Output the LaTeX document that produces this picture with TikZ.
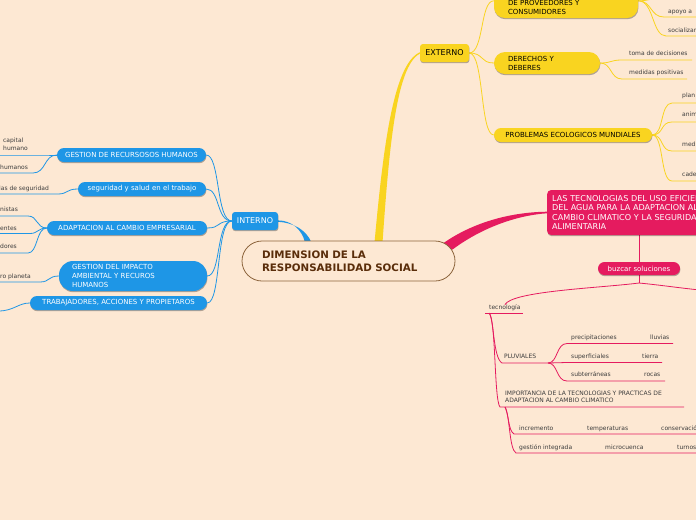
\documentclass[tikz,border=0pt]{standalone}
\usepackage{fontspec}
\setmainfont{DejaVu Sans}
\usetikzlibrary{calc,shadows}
\definecolor{bgc}{RGB}{253,232,211}
\definecolor{cblue}{RGB}{30,150,230}
\definecolor{cyel}{RGB}{249,212,32}
\definecolor{cpink}{RGB}{229,27,95}
\definecolor{cbrown}{RGB}{140,100,60}
\definecolor{ctext}{RGB}{90,45,10}
\definecolor{leaftxt}{RGB}{60,60,60}
\pgfdeclarelayer{bgl}
\pgfdeclarelayer{lnk}
\pgfsetlayers{bgl,lnk,main}
\tikzset{
 shad/.style={drop shadow={shadow xshift=0.4pt,shadow yshift=-1.2pt,opacity=0.3,fill=black}},
 topbox/.style={rounded corners=3pt,inner sep=0pt,font=\fontsize{8}{9}\selectfont,shad},
 pill/.style={rounded corners=7pt,inner sep=0pt,font=\fontsize{7}{9}\selectfont,shad},
 leaf/.style={inner sep=0pt,font=\fontsize{6}{7}\selectfont,text=leaftxt},
 bl/.style={draw=cblue,line width=0.8pt},
 yl/.style={draw=cyel,line width=0.8pt},
 pl/.style={draw=cpink,line width=0.8pt},
 centre/.style={draw=cbrown,line width=0.8pt,fill=bgc,rounded corners=20pt,minimum width=213pt,minimum height=40pt,inner ysep=0pt,inner xsep=20pt,text width=173pt,align=left,text=ctext,font=\bfseries\fontsize{10.3}{13}\selectfont},
}
\begin{document}
\begin{tikzpicture}[x=1pt,y=-1pt]
\begin{pgfonlayer}{bgl}
\fill[bgc] (0,0) rectangle (696,520);
\end{pgfonlayer}
\useasboundingbox (0,0) rectangle (696,520);

% ---------- main nodes
\node[centre] (ctr) at (348.5,261) {DIMENSION DE LA\\RESPONSABILIDAD SOCIAL};
\node[topbox,fill=cblue,text=white,minimum width=46pt,minimum height=18pt] (int) at (255,221) {INTERNO};
\node[topbox,fill=cyel,text=black,minimum width=49pt,minimum height=18pt] (ext) at (444.5,53) {EXTERNO};

% ---------- blue (interno)
\node[pill,fill=cblue,text=white,minimum width=149pt,minimum height=14pt] (g1) at (131.5,155) {GESTION DE RECURSOSOS HUMANOS};
\node[pill,fill=cblue,text=white,minimum width=128pt,minimum height=14pt] (g2) at (142,189) {seguridad y salud en el trabajo};
\node[pill,fill=cblue,text=white,minimum width=160pt,minimum height=14pt] (g3) at (127,228) {ADAPTACION AL CAMBIO EMPRESARIAL};
\node[pill,fill=cblue,text=white,rounded corners=14pt,inner xsep=13pt,text width=122pt,align=left,minimum height=30pt] (g4) at (133,276) {GESTION DEL IMPACTO\\AMBIENTAL Y RECUROS\\HUMANOS};
\node[pill,fill=cblue,text=white,minimum width=177pt,minimum height=14pt] (g5) at (118.5,303) {TRABAJADORES, ACCIONES Y PROPIETAROS};

\node[leaf,align=left,anchor=west,font=\fontsize{6}{8}\selectfont] (l1) at (3,144.4) {capital\\humano};
\node[leaf,anchor=mid west] (l2) at (0,167) {humanos};
\node[leaf,anchor=mid west] (l3) at (-1,188) {las de seguridad};
\node[leaf,anchor=mid west] (l4) at (0,209) {nistas};
\node[leaf,anchor=mid west] (l5) at (0,228) {entes};
\node[leaf,anchor=mid west] (l6) at (0,246) {dores};
\node[leaf,anchor=mid west] (l7) at (0,276) {ro planeta};

% ---------- yellow (externo)
\node[pill,fill=cyel,text=black,rounded corners=11pt,inner xsep=14pt,text width=116pt,align=left,minimum height=34.4pt] (y1) at (566,0.8) {\mbox{}\\\mbox{}\\DE PROVEEDORES Y\\CONSUMIDORES};
\node[pill,fill=cyel,text=black,rounded corners=11pt,inner xsep=14pt,text width=78pt,align=left,minimum height=22pt] (y2) at (547,63) {DERECHOS Y\\DEBERES};
\node[pill,fill=cyel,text=black,minimum width=158pt,minimum height=14pt] (y3) at (573,135) {PROBLEMAS ECOLOGICOS MUNDIALES};

\node[leaf,anchor=mid west] (ap) at (668,11) {apoyo a};
\node[leaf,anchor=mid west] (so) at (668,30) {socializar};
\node[leaf,anchor=mid west] (to) at (629,53) {toma de decisiones};
\node[leaf,anchor=mid west] (me) at (629,72) {medidas positivas};
\node[leaf,anchor=mid west] (pa) at (682,95) {plan};
\node[leaf,anchor=mid west] (an) at (682,114) {anim};
\node[leaf,anchor=mid west] (md) at (682,144) {medi};
\node[leaf,anchor=mid west] (ca) at (682,174) {cade};

% ---------- pink
\node[anchor=west,fill=cpink,text=white,rounded corners=4pt,inner xsep=5pt,inner ysep=0pt,text width=200pt,align=left,minimum height=45pt,font=\fontsize{8.1}{9.3}\selectfont,shad] (tec) at (547,212.5) {LAS TECNOLOGIAS DEL USO EFICIENTE\\DEL AGUA PARA LA ADAPTACION AL\\CAMBIO CLIMATICO Y LA SEGURIDAD\\ALIMENTARIA};
\node[pill,fill=cpink,text=white,rounded corners=6.5pt,minimum width=82pt,minimum height=13pt] (bz) at (639,268.5) {buzcar soluciones};

\node[leaf,anchor=mid west] (tc) at (489,307) {tecnología};
\node[leaf,anchor=mid west] (pv) at (504,356) {PLUVIALES};
\node[leaf,anchor=mid west] (pr) at (571,337) {precipitaciones};
\node[leaf,anchor=mid west] (ll) at (650,337) {lluvias};
\node[leaf,anchor=mid west] (su) at (571,356) {superficiales};
\node[leaf,anchor=mid west] (ti) at (642,356) {tierra};
\node[leaf,anchor=mid west] (sb) at (571,374) {subterráneas};
\node[leaf,anchor=mid west] (ro) at (644,374) {rocas};
\node[leaf,anchor=west,align=left] (im) at (505,397) {IMPORTANCIA DE LA TECNOLOGIAS Y PRACTICAS DE\\ADAPTACION AL CAMBIO CLIMATICO};
\node[leaf,anchor=mid west] (inc) at (519,428) {incremento};
\node[leaf,anchor=mid west] (te) at (587,428) {temperaturas};
\node[leaf,anchor=mid west] (co) at (661,428) {conservación};
\node[leaf,anchor=mid west] (gi) at (519,447) {gestión integrada};
\node[leaf,anchor=mid west] (mc) at (605,447) {microcuenca};
\node[leaf,anchor=mid west] (tu) at (677,447) {turnos};

% ---------- coordinates for underlines / free ends
\coordinate (g5e) at (-2,311);
\coordinate (y1t) at (700,-2);
\coordinate (rt) at (700,290);
\coordinate (jn) at (639,283);

% ---------- connectors
\begin{pgfonlayer}{lnk}
% thick main branches
\fill[cyel] ($(ctr.north)+(26,2)$) .. controls (383,150) and (393,64) .. ($(ext.west)+(0,-0.7)$) -- ($(ext.west)+(0,0.7)$) .. controls (396,66) and (389,150) .. ($(ctr.north)+(34,2)$) -- cycle;
\fill[cblue] ($(int.east)+(0,-0.6)$) .. controls (291,220.5) and (302,229) .. ($(ctr.north)+(-43.5,2)$) -- ($(ctr.north)+(-37,2)$) .. controls (306,229) and (292,222.5) .. ($(int.east)+(0,0.8)$) -- cycle;
\fill[cpink] ($(ctr.north east)+(-12,2.5)$) .. controls (478,219) and (518,212) .. ($(tec.west)+(0,-0.8)$) -- ($(tec.west)+(0,0.8)$) .. controls (520,215) and (484,226) .. ($(ctr.north east)+(-3,9)$) -- cycle;

% blue
\foreach \n in {g1,g2,g3,g4,g5}{
  \draw[bl] (\n.east) .. controls ($(\n.east)+(14,0)$) and (216,221) .. (int.west);
}
\draw[bl] (0,155) -- (42,155) .. controls (50,155) and (50,155) .. (g1.west);
\draw[bl] (0,173) -- (33,173) .. controls (46,173) and (44,155) .. (g1.west);
\draw[bl] (0,194) -- (58,194) .. controls (68,194) and (66,189) .. (g2.west);
\draw[bl] (0,216) -- (28,216) .. controls (38,216) and (36,228) .. (g3.west);
\draw[bl] (0,233.5) -- (30,233.5) .. controls (38,233.5) and (38,228) .. (g3.west);
\draw[bl] (0,253) -- (28,253) .. controls (38,253) and (36,228) .. (g3.west);
\draw[bl] (0,282) -- (40,282) .. controls (50,282) and (48,276) .. (g4.west);
\draw[bl] (g5.west) .. controls (18,303) and (14,311) .. (g5e);

% yellow
\draw[yl] (ext.east) .. controls (484,53) and (480,0.8) .. (y1.west);
\draw[yl] (ext.east) .. controls (484,53) and (480,63) .. (y2.west);
\draw[yl] (ext.east) .. controls (484,53) and (480,135) .. (y3.west);
\draw[yl] (y1.east) .. controls (650,0.8) and (650,-2) .. (665,-2) -- (y1t);
\draw[yl] (y1.east) .. controls (652,0.8) and (650,17) .. (664,17) -- (700,17);
\draw[yl] (y1.east) .. controls (654,0.8) and (652,36) .. (666,36) -- (700,36);
\draw[yl] (y2.east) .. controls (612,63) and (610,60) .. (622,60) -- (692,60);
\draw[yl] (y2.east) .. controls (612,63) and (610,79) .. (622,79) -- (687,79);
\draw[yl] (y3.east) .. controls (664,135) and (660,103) .. (672,103) -- (700,103);
\draw[yl] (y3.east) .. controls (664,135) and (660,122) .. (672,122) -- (700,122);
\draw[yl] (y3.east) .. controls (664,135) and (660,151) .. (672,151) -- (700,151);
\draw[yl] (y3.east) .. controls (664,135) and (660,181) .. (672,181) -- (700,181);

% pink
\draw[pl] (bz.north |- tec.south) -- (bz.north);
\draw[pl] (bz.south) -- (jn);
\draw[pl] (jn) .. controls (600,288) and (512,291) .. (tc.north);
\draw[pl] (jn) .. controls (660,285) and (680,288) .. (rt);
\draw[pl] (485,313) -- (523,313);
\draw[pl] (489,313) .. controls (494,318) and (493,358) .. (502,363) -- (548,363);
\draw[pl] (489,313) .. controls (496,318) and (494,400) .. (500,407) -- (684,407);
\draw[pl] (548,363) .. controls (558,363) and (556,343.5) .. (567,343.5) -- (640,343.5) -- (673,343.5);
\draw[pl] (548,363) -- (567,362.5) -- (662,362.5);
\draw[pl] (548,363) .. controls (558,363) and (556,381) .. (567,381) -- (665,381);
\draw[pl] (505,407) .. controls (509,415) and (508,430) .. (514,434) -- (584,434) -- (658,434) -- (700,434);
\draw[pl] (505,407) .. controls (510,415) and (509,449) .. (516,453) -- (600,453) -- (672,453) -- (700,453);
\end{pgfonlayer}
\end{tikzpicture}
\end{document}
